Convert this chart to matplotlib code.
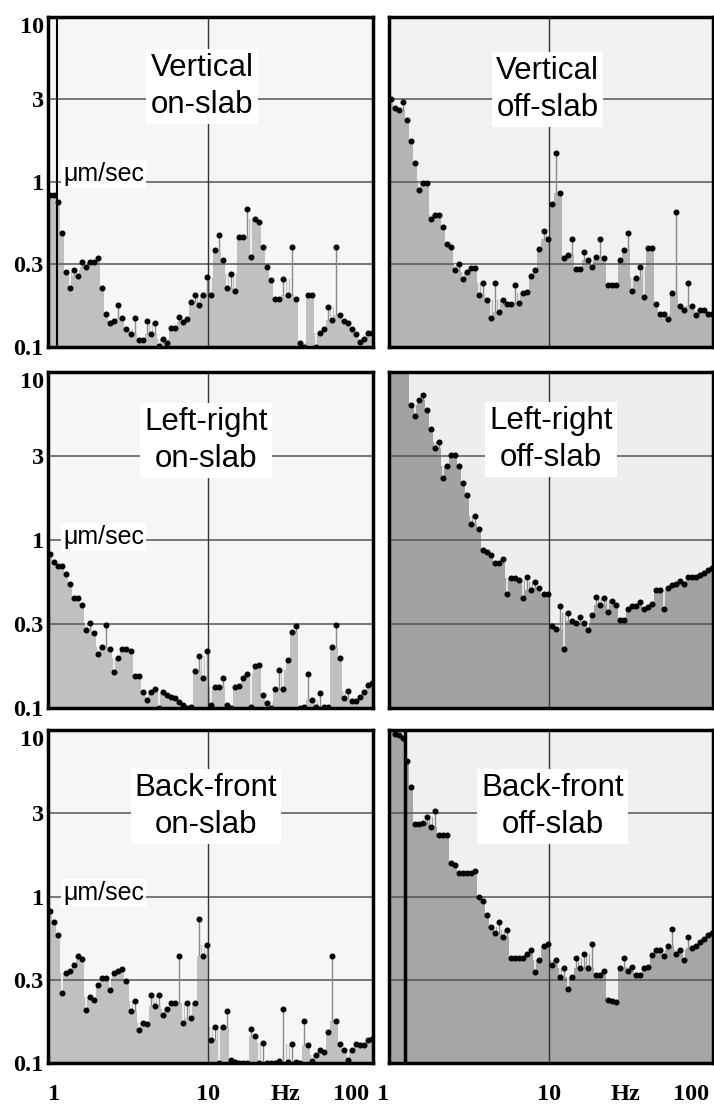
import numpy as np
import matplotlib.pyplot as plt

# 1/12-octave band centres from 1 Hz to about 100 Hz
freq = 2 ** ((np.arange(81) + 0.5) / 12)

# Band velocity levels, um/sec (values above 10 are off the top of the scale)
vert_on = [0.83, 0.83, 0.76, 0.49, 0.285, 0.229, 0.292, 0.271, 0.328, 0.306,
           0.328, 0.328, 0.344, 0.229, 0.159, 0.139, 0.144, 0.179, 0.149, 0.129,
           0.120, 0.149, 0.111, 0.111, 0.143, 0.120, 0.139, 0.102, 0.112, 0.106,
           0.130, 0.130, 0.152, 0.142, 0.147, 0.188, 0.206, 0.179, 0.206, 0.266,
           0.208, 0.386, 0.477, 0.336, 0.229, 0.276, 0.219, 0.461, 0.461, 0.69,
           0.352, 0.60, 0.574, 0.405, 0.306, 0.254, 0.194, 0.194, 0.260, 0.208,
           0.405, 0.194, 0.105, 0.1, 0.208, 0.208, 0.1, 0.122, 0.129, 0.175,
           0.145, 0.405, 0.156, 0.143, 0.139, 0.129, 0.120, 0.107, 0.112, 0.122,
           0.122]
vert_off = [3.18, 2.8, 2.73, 3.07, 2.38, 1.76, 1.30, 0.89, 0.98, 0.98,
            0.60, 0.63, 0.63, 0.53, 0.42, 0.405, 0.292, 0.32, 0.26, 0.285,
            0.30, 0.30, 0.206, 0.243, 0.192, 0.149, 0.243, 0.163, 0.192, 0.182,
            0.182, 0.237, 0.185, 0.211, 0.216, 0.269, 0.292, 0.395, 0.506, 0.449,
            0.734, 1.49, 0.86, 0.344, 0.36, 0.449, 0.295, 0.295, 0.374, 0.336,
            0.306, 0.352, 0.449, 0.344, 0.237, 0.237, 0.237, 0.335, 0.386, 0.494,
            0.218, 0.262, 0.306, 0.201, 0.40, 0.40, 0.182, 0.159, 0.159, 0.147,
            0.211, 0.66, 0.177, 0.167, 0.243, 0.177, 0.156, 0.168, 0.168, 0.159,
            0.159]
lr_on = [0.83, 0.74, 0.70, 0.70, 0.63, 0.55, 0.45, 0.45, 0.41, 0.29,
         0.32, 0.28, 0.21, 0.23, 0.31, 0.225, 0.164, 0.198, 0.225, 0.225,
         0.219, 0.155, 0.155, 0.125, 0.112, 0.125, 0.129, 0.10, 0.125, 0.119,
         0.117, 0.114, 0.109, 0.104, 0.10, 0.102, 0.166, 0.204, 0.150, 0.219,
         0.104, 0.133, 0.133, 0.150, 0.104, 0.10, 0.133, 0.136, 0.150, 0.159,
         0.102, 0.177, 0.181, 0.119, 0.107, 0.10, 0.129, 0.168, 0.129, 0.193,
         0.284, 0.307, 0.10, 0.102, 0.159, 0.112, 0.102, 0.123, 0.102, 0.102,
         0.231, 0.31, 0.198, 0.114, 0.126, 0.110, 0.110, 0.117, 0.125, 0.137,
         0.14]
lr_off = [11, 11, 11, 11, 11, 6.4, 5.5, 6.8, 7.3, 5.9,
          4.6, 3.55, 3.84, 2.33, 2.77, 3.22, 3.22, 2.77, 2.19, 1.86,
          1.25, 1.38, 1.16, 0.87, 0.85, 0.81, 0.73, 0.73, 0.77, 0.48,
          0.59, 0.59, 0.58, 0.45, 0.60, 0.505, 0.56, 0.52, 0.48, 0.48,
          0.307, 0.294, 0.405, 0.225, 0.366, 0.33, 0.32, 0.347, 0.32, 0.29,
          0.36, 0.46, 0.41, 0.45, 0.374, 0.436, 0.41, 0.335, 0.335, 0.39,
          0.405, 0.405, 0.427, 0.39, 0.40, 0.418, 0.505, 0.505, 0.39, 0.52,
          0.537, 0.55, 0.569, 0.544, 0.60, 0.60, 0.60, 0.62, 0.635, 0.66,
          0.68]
bf_on = [0.82, 0.70, 0.59, 0.264, 0.346, 0.357, 0.386, 0.438, 0.42, 0.209,
         0.25, 0.24, 0.295, 0.322, 0.322, 0.273, 0.346, 0.357, 0.366, 0.31,
         0.204, 0.236, 0.158, 0.175, 0.172, 0.257, 0.221, 0.257, 0.195, 0.212,
         0.229, 0.229, 0.438, 0.175, 0.229, 0.187, 0.229, 0.735, 0.438, 0.51,
         0.138, 0.165, 0.1, 0.165, 0.204, 0.105, 0.102, 0.1, 0.1, 0.1,
         0.16, 0.146, 0.1, 0.132, 0.1, 0.1, 0.1, 0.103, 0.21, 0.102,
         0.13, 0.102, 0.1, 0.18, 0.129, 0.103, 0.112, 0.119, 0.117, 0.153,
         0.438, 0.18, 0.13, 0.119, 0.105, 0.12, 0.13, 0.128, 0.128, 0.138,
         0.14]
bf_off = [11, 9.5, 9.3, 8.95, 6.5, 4.57, 2.72, 2.72, 2.75, 2.99,
          2.62, 3.26, 2.35, 2.33, 2.35, 1.59, 1.54, 1.39, 1.39, 1.39,
          1.39, 1.43, 1.0, 0.94, 0.77, 0.66, 0.60, 0.70, 0.57, 0.63,
          0.43, 0.43, 0.43, 0.43, 0.45, 0.475, 0.35, 0.417, 0.507, 0.52,
          0.39, 0.417, 0.327, 0.37, 0.278, 0.327, 0.43, 0.373, 0.45, 0.37,
          0.52, 0.339, 0.339, 0.357, 0.24, 0.236, 0.233, 0.373, 0.43, 0.357,
          0.38, 0.339, 0.339, 0.37, 0.38, 0.445, 0.48, 0.48, 0.44, 0.507,
          0.64, 0.45, 0.48, 0.417, 0.57, 0.49, 0.507, 0.53, 0.553, 0.584,
          0.60]

series = [vert_on, vert_off, lr_on, lr_off, bf_on, bf_off]
titles = ['Vertical\non-slab', 'Vertical\noff-slab',
          'Left-right\non-slab', 'Left-right\noff-slab',
          'Back-front\non-slab', 'Back-front\noff-slab']
title_pos = [(0.474, 0.79), (0.49, 0.78), (0.486, 0.795),
             (0.50, 0.80), (0.486, 0.77), (0.505, 0.77)]
# extra dark vertical rules seen near the left edge of two panels (Hz)
edge_rule = [1.14, None, None, None, None, 1.26]

y_ticks = [10, 10 ** 0.5, 1, 10 ** -0.5, 0.1]
y_labels = ['10', '3', '1', '0.3', '0.1']
x_ticks = [1, 10, 30, 100]
x_labels = ['1', '10', 'Hz', '100']

fill_colors = ['#c0c0c0', '#b4b4b4', '#c0c0c0', '#a2a2a2', '#c0c0c0', '#a6a6a6']
back_colors = ['#f6f6f6', '#f1f1f1', '#f6f6f6', '#eeeeee', '#f6f6f6', '#f0f0f0']

fig = plt.figure(figsize=(7.14, 11.10), dpi=100)
col_left = [48 / 714, 389 / 714]
col_width = [325 / 714, 324 / 714]
rows = [(0.6874, 0.2973), (0.3622, 0.3027), (0.0423, 0.300)]

serif = dict(family='Liberation Serif', weight='bold', size=17.5)

edges = np.r_[freq * 2 ** (-1 / 24), freq[-1] * 2 ** (1 / 24)]

for i, vals in enumerate(series):
    r, c = divmod(i, 2)
    ax = fig.add_axes([col_left[c], rows[r][0], col_width[c], rows[r][1]])
    ax.set_xscale('log')
    ax.set_yscale('log')
    ax.set_xlim(1, 106)
    ax.set_ylim(0.1, 10)
    ax.set_facecolor(back_colors[i])

    v = np.asarray(vals, float)
    # fill follows the neighbours; isolated peaks and dips become thin lines
    prev = np.r_[v[0], v[:-1]]
    nxt = np.r_[v[1:], v[-1]]
    env = np.clip(v, np.minimum(prev, nxt), np.maximum(prev, nxt))
    ax.stairs(env, edges, fill=True, baseline=0.05, color=fill_colors[i],
              zorder=1)

    for g in y_ticks[1:-1]:
        ax.axhline(g, color='#555555', lw=1.1, zorder=2)
    ax.axvline(10, color='#333333', lw=1.0, zorder=2)
    if edge_rule[i] is not None:
        ax.axvline(edge_rule[i], color='black', lw=1.5 if c == 0 else 2.5,
                   zorder=2)

    up = v > env
    down = v < env
    ax.vlines(freq[up], env[up], v[up], colors='#8a8a8a', lw=1.0, zorder=3)
    ax.vlines(freq[down], v[down], env[down], colors=back_colors[i], lw=1.2,
              zorder=3)
    ax.plot(freq, v, 'o', ms=3.3, color='black', zorder=4)

    ax.text(title_pos[i][0], title_pos[i][1], titles[i], transform=ax.transAxes,
            ha='center', va='center', fontsize=22.5, family='Liberation Sans',
            linespacing=1.3, zorder=5,
            bbox=dict(fc='white', ec='none', pad=3))
    if c == 0:
        ax.text(0.046, 0.525 if r == 0 else 0.51, 'μm/sec',
                transform=ax.transAxes, ha='left', va='center', fontsize=18,
                family='Liberation Sans', zorder=5,
                bbox=dict(fc='white', ec='none', pad=1.5))

    for s in ax.spines.values():
        s.set_linewidth(2.5)
        s.set_color('black')
        s.set_zorder(6)

    ax.minorticks_off()
    ax.tick_params(length=0)
    if c == 0:
        ax.set_yticks(y_ticks, labels=y_labels, fontdict=serif)
        ax.tick_params(axis='y', pad=3)
        ax.get_yticklabels()[0].set_va('top')
    else:
        ax.set_yticks([])
    if r == 2:
        ax.set_xticks(x_ticks, labels=x_labels, fontdict=serif)
        ax.tick_params(axis='x', pad=15)
        lbls = ax.get_xticklabels()
        lbls[0].set_ha('left' if c == 0 else 'right')
        lbls[-1].set_ha('right')
    else:
        ax.set_xticks([])

fig.savefig('out.png', dpi=100)
